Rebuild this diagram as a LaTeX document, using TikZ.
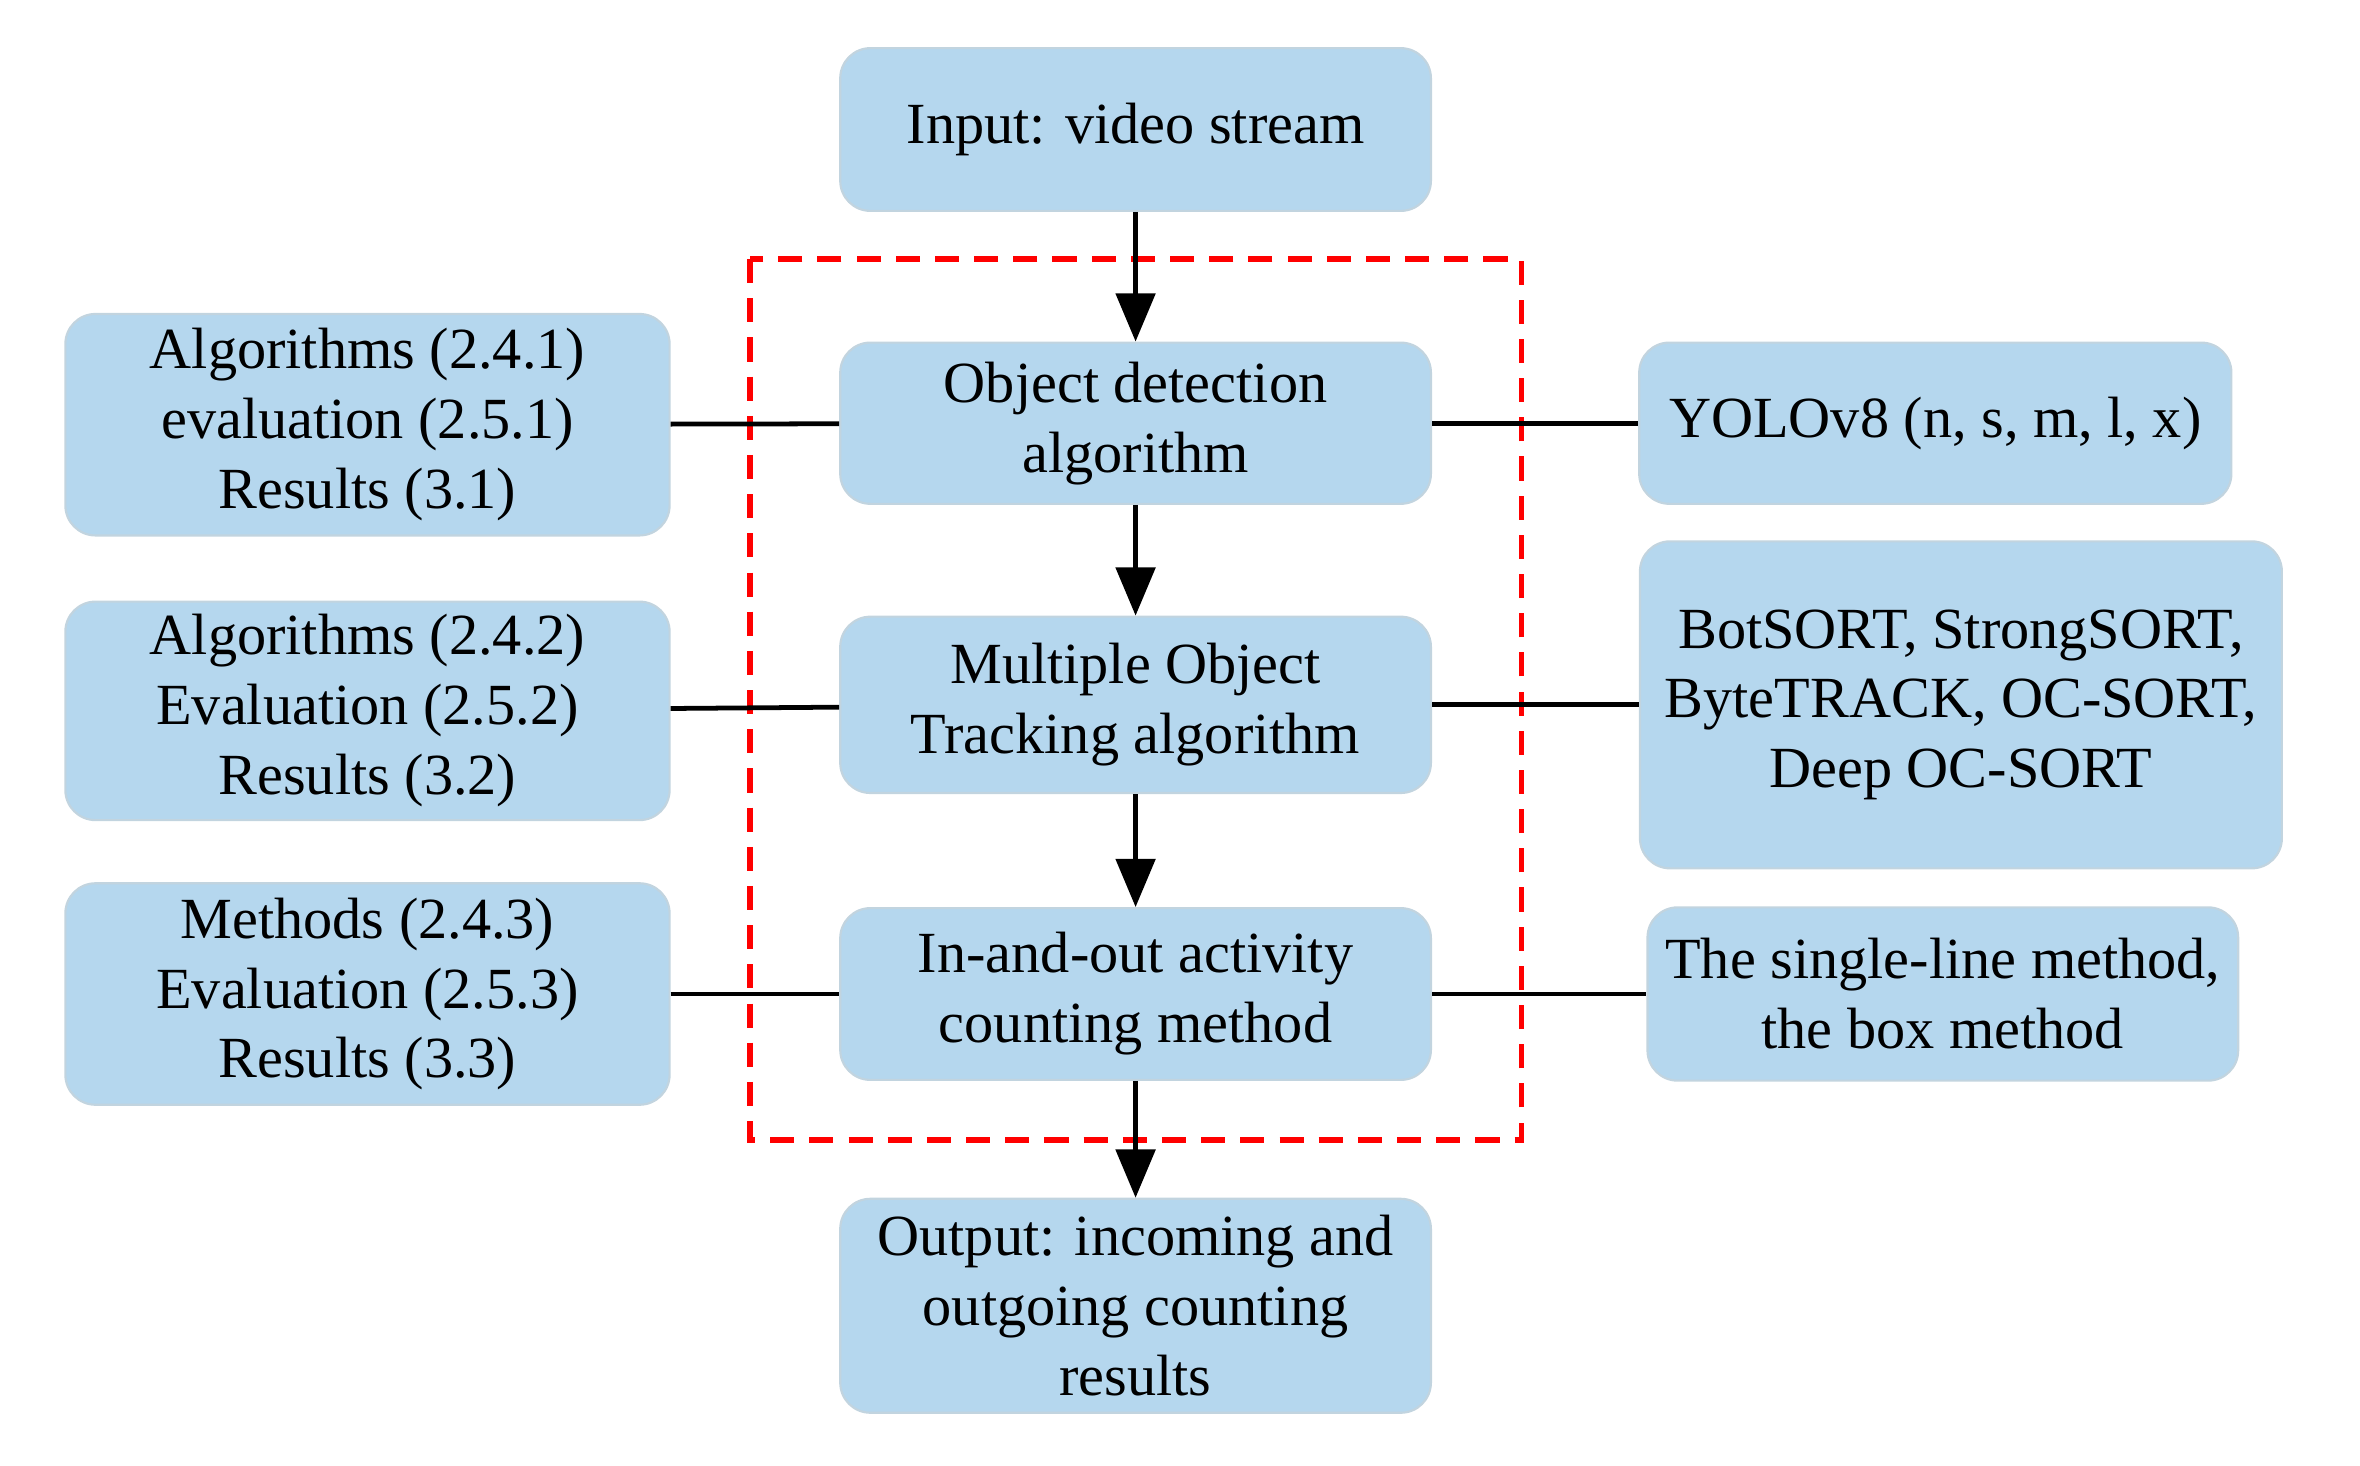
\documentclass[tikz,border=0pt]{standalone}
\usepackage{fontspec}
\setmainfont{Liberation Serif}
\usetikzlibrary{arrows.meta}
\definecolor{boxblue}{RGB}{181,215,238}
\begin{document}
\begin{tikzpicture}[x=0.01cm,y=-0.01cm,
  box/.style={draw=boxblue!85!black!60,line width=0.4pt,fill=boxblue,rounded corners=0.2cm,align=center,
    font=\fontsize{11}{13.2}\selectfont,inner sep=0pt},
  arr/.style={-{Triangle[length=0.32cm,width=0.26cm]},line width=0.9pt},
  ln/.style={line width=0.9pt}]
\useasboundingbox (0,0) rectangle (1567,973);
\node[box,minimum width=3.92cm,minimum height=1.08cm] (in) at (754,86) {Input: video stream};
\node[box,minimum width=3.92cm,minimum height=1.07cm] (od) at (754,281) {Object detection\\algorithm};
\node[box,minimum width=3.92cm,minimum height=1.17cm] (mot) at (754,468) {Multiple Object\\Tracking algorithm};
\node[box,minimum width=3.92cm,minimum height=1.14cm] (io) at (754,660) {In-and-out activity\\counting method};
\node[box,minimum width=3.92cm,minimum height=1.42cm] (out) at (754,867) {Output: incoming and\\outgoing counting\\results};
\node[box,minimum width=4.01cm,minimum height=1.47cm] (l1) at (244,282) {Algorithms (2.4.1)\\evaluation (2.5.1)\\Results (3.1)};
\node[box,minimum width=4.01cm,minimum height=1.45cm] (l2) at (244,472) {Algorithms (2.4.2)\\Evaluation (2.5.2)\\Results (3.2)};
\node[box,minimum width=4.01cm,minimum height=1.47cm] (l3) at (244,660) {Methods (2.4.3)\\Evaluation (2.5.3)\\Results (3.3)};
\node[box,minimum width=3.93cm,minimum height=1.07cm] (r1) at (1285,281) {YOLOv8 (n, s, m, l, x)};
\node[box,minimum width=4.26cm,minimum height=2.17cm] (r2) at (1302,468) {BotSORT, StrongSORT,\\ByteTRACK, OC-SORT,\\Deep OC-SORT};
\node[box,minimum width=3.92cm,minimum height=1.15cm] (r3) at (1290,660) {The single-line method,\\the box method};
\draw[red,dashed,line width=1pt,dash pattern=on 0.16cm off 0.1cm] (498,172) rectangle (1010,757);
\draw[arr] (in) -- (od);
\draw[arr] (od) -- (mot);
\draw[arr] (mot) -- (io);
\draw[arr] (io) -- (out);
\draw[ln] (l1) -- (od);
\draw[ln] (l2) -- (mot);
\draw[ln] (l3) -- (io);
\draw[ln] (od) -- (r1);
\draw[ln] (mot) -- (r2);
\draw[ln] (io) -- (r3);
\end{tikzpicture}
\end{document}
